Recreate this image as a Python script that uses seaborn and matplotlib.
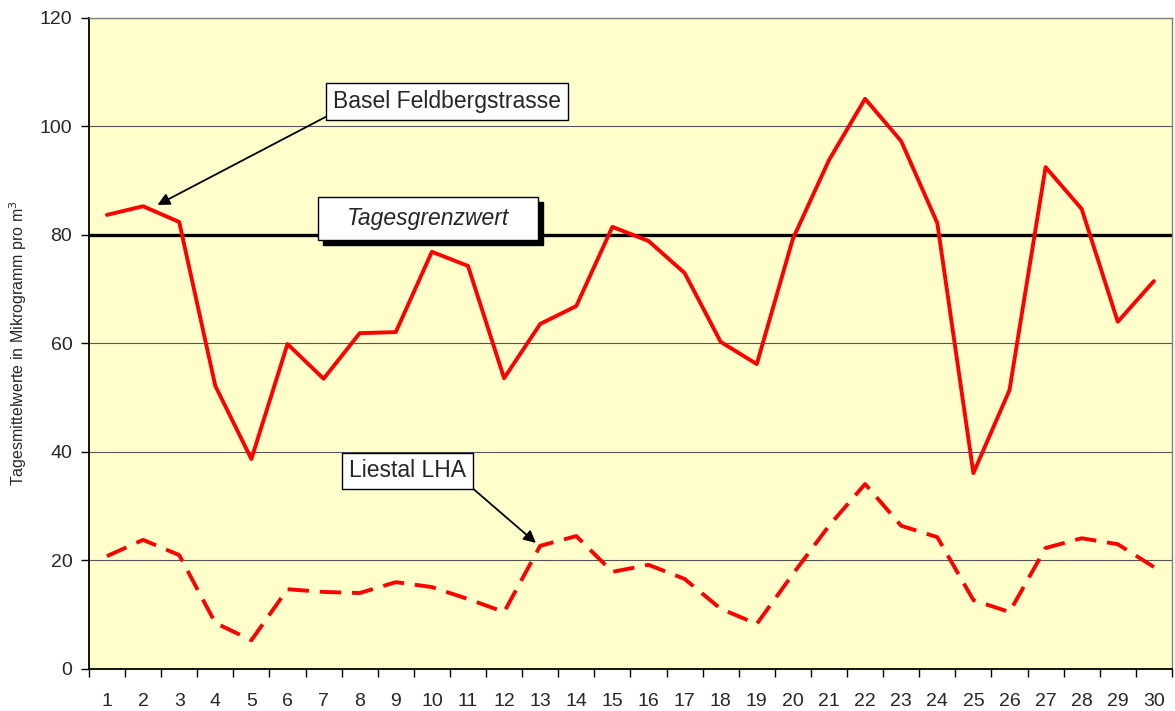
import matplotlib
matplotlib.use("Agg")
import matplotlib.pyplot as plt
import seaborn as sns
import pandas as pd
from matplotlib.ticker import FixedLocator
from matplotlib.patches import Rectangle

days = list(range(1, 31))
basel = [83.7, 85.3, 82.4, 52.2, 38.7, 59.9, 53.5, 61.9, 62.1, 76.9,
         74.3, 53.6, 63.6, 66.9, 81.5, 78.9, 73.0, 60.3, 56.2, 79.3,
         93.8, 105.1, 97.3, 82.2, 36.1, 51.4, 92.5, 84.8, 64.0, 71.5]
liestal = [20.8, 23.8, 21.0, 8.5, 5.3, 14.7, 14.2, 14.0, 16.0, 15.1,
           12.9, 10.5, 22.7, 24.5, 17.9, 19.2, 16.6, 11.1, 8.3, 17.5,
           26.4, 34.1, 26.4, 24.3, 12.7, 10.5, 22.3, 24.1, 23.0, 18.8]
grenzwert = 80

sns.set_style("white")
plt.rcParams['font.family'] = ['Liberation Sans', 'DejaVu Sans']

fig = plt.figure(figsize=(11.75, 7.11), dpi=100)
ax = fig.add_axes([0.0757, 0.0591, 0.9217, 0.9156])
ax.set_facecolor("#FFFFCC")

df = pd.DataFrame({"Tag": days, "Basel": basel, "Liestal": liestal})

ax.axhline(grenzwert, color="black", lw=2.4, zorder=2)
sns.lineplot(data=df, x="Tag", y="Basel", color="red", lw=2.8, ax=ax, zorder=3)
sns.lineplot(data=df, x="Tag", y="Liestal", color="red", lw=2.8, ax=ax, zorder=3)
ax.lines[-1].set_dashes([5.5, 2.8])

ax.set_xlim(0.5, 30.5)
ax.set_ylim(0, 120)
ax.set_yticks(range(0, 121, 20))
ax.yaxis.grid(True, color="#555555", lw=0.8)
ax.set_axisbelow(True)

# ticks on category boundaries, labels at centres
ax.xaxis.set_major_locator(FixedLocator([d - 0.5 for d in days] + [30.5]))
ax.xaxis.set_minor_locator(FixedLocator(days))
ax.set_xticklabels([])
ax.set_xticklabels([str(d) for d in days], minor=True)
ax.tick_params(axis="x", which="major", direction="out", length=6, width=1, color="black", bottom=True)
ax.tick_params(axis="x", which="minor", length=0, labelsize=14, pad=17)
ax.tick_params(axis="y", direction="out", length=6, width=1, color="black", left=True, labelsize=14, pad=6)

ax.set_xlabel("")
ax.set_ylabel("Tagesmittelwerte in Mikrogramm pro m$^3$", fontsize=11.5, labelpad=8)

for s in ["left", "bottom"]:
    ax.spines[s].set_color("black")
    ax.spines[s].set_linewidth(1.3)
for s in ["top", "right"]:
    ax.spines[s].set_color("#808080")
    ax.spines[s].set_linewidth(1)

box = dict(boxstyle="square,pad=0.3", fc="white", ec="black", lw=1)
ax.annotate("Basel Feldbergstrasse", xy=(2.33, 85.3), xytext=(10.42, 104.6),
            fontsize=16.5, bbox=box, ha="center", va="center",
            arrowprops=dict(arrowstyle="-|>", color="black", lw=1.3, relpos=(0, 0),
                            shrinkA=0, shrinkB=2, mutation_scale=18))
ax.annotate("Liestal LHA", xy=(12.94, 22.9), xytext=(9.32, 36.5),
            fontsize=16.5, bbox=box, ha="center", va="center",
            arrowprops=dict(arrowstyle="-|>", color="black", lw=1.3, relpos=(1, 0),
                            shrinkA=0, shrinkB=2, mutation_scale=18))

# Tagesgrenzwert label with shadow
ax.add_patch(Rectangle((6.98, 78.2), 6.1, 7.9, fc="black", ec="black", zorder=4))
ax.add_patch(Rectangle((6.84, 79.1), 6.1, 7.9, fc="white", ec="black", lw=1, zorder=5))
ax.text(9.89, 83.0, "Tagesgrenzwert", fontsize=16.5, style="italic",
        ha="center", va="center", zorder=6)

fig.savefig("out.png", dpi=100)
